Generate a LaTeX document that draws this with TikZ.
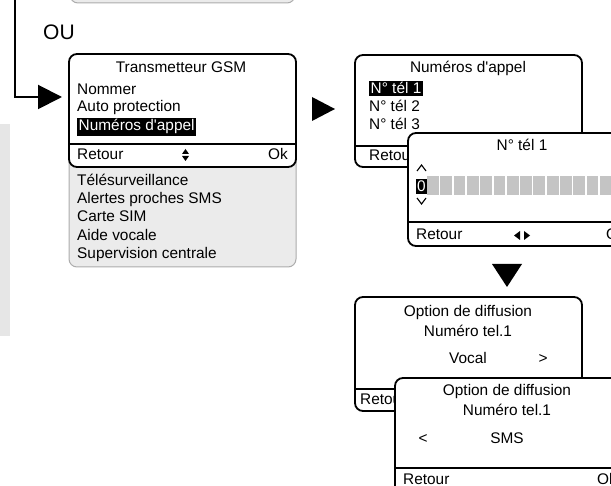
\documentclass[tikz,border=0pt]{standalone}
\usepackage{fontspec}
\setmainfont{Liberation Sans}
\usetikzlibrary{arrows.meta}
\definecolor{panelgray}{HTML}{E6E6E6}
\definecolor{listgray}{HTML}{EBEBEB}
\definecolor{cellgray}{HTML}{C4C4C4}
\begin{document}
\begin{tikzpicture}[x=1pt,y=-1pt,
    every node/.style={inner sep=0pt,font=\fontsize{15.4}{17}\selectfont},
    lbl/.style={anchor=base west},
    ctr/.style={anchor=base},
    hl/.style={anchor=base west,fill=black,text=white,inner xsep=1.5pt,inner ysep=2pt},
    screen/.style={draw,fill=white,line width=1.8pt,rounded corners=8pt},
    listbox/.style={draw=gray!65,fill=listgray,line width=1pt,rounded corners=8pt},
    sep/.style={line width=1.8pt}]
    \useasboundingbox (0,0) rectangle (611,486);
    % side panel and previous screen
    \fill[panelgray] (0,124) rectangle (10,336);
    \draw[listbox] (70,-20) rectangle (295,3);
    \coordinate (src) at (15,0);
    \coordinate (tip) at (62,97);
    \draw[line width=2pt,-{Triangle[length=24pt,width=24pt]}] (src) |- (tip);
    \node[lbl,font=\fontsize{21}{24}\selectfont] (ou) at (43,40) {OU};
    % transmetteur menu
    \draw[listbox] (69,150) rectangle (296,267);
    \draw[screen] (69,54) rectangle (296,167);
    \draw[sep] (69,144) -- (296,144);
    \node[ctr] (gsm) at (181,73) {Transmetteur GSM};
    \node[lbl] (nom) at (77,95) {Nommer};
    \node[lbl] (auto) at (77,112) {Auto protection};
    \node[hl] (num) at (77,131) {Numéros d\textquotesingle appel\hspace{7pt}};
    \node[lbl] (ret1) at (77,160) {Retour};
    \node[anchor=base east] (ok1) at (288,160) {Ok};
    \fill (182,154) -- (189,154) -- (185.5,149) -- cycle;
    \fill (182,156) -- (189,156) -- (185.5,161) -- cycle;
    \node[lbl] (tele) at (77,185.5) {Télésurveillance};
    \node[lbl] (alert) at (77,204) {Alertes proches SMS};
    \node[lbl] (sim) at (77,222) {Carte SIM};
    \node[lbl] (aide) at (77,241) {Aide vocale};
    \node[lbl] (sup) at (77,259) {Supervision centrale};
    \fill (312,97) -- (335,109) -- (312,121) -- cycle;
    % numeros d'appel
    \draw[screen] (355,55) rectangle (582,167);
    \draw[sep] (355,146) -- (582,146);
    \node[ctr] (nums) at (468,73) {Numéros d\textquotesingle appel};
    \node[hl] (tel1) at (369,94) {N° tél 1\hspace{6pt}};
    \node[lbl] (tel2) at (369,112) {N° tél 2};
    \node[lbl] (tel3) at (369,130) {N° tél 3};
    \node[lbl] (ret2) at (369,161) {Retour};
    % saisie du numero
    \draw[screen] (408,133) rectangle (640,246);
    \draw[sep] (408,222) -- (640,222);
    \node[ctr] (saisie) at (522,151) {N° tél 1};
    \draw[line width=1.1pt] (417,171) -- (421.5,165) -- (426,171);
    \draw[line width=1.1pt] (417,198) -- (421.5,204) -- (426,198);
    \node[hl,inner xsep=1pt] (zero) at (416,192) {0};
    \foreach \i in {0,...,14}
        \fill[cellgray] (427+13.3*\i,176) rectangle ++(11.8,19);
    \node[lbl] (ret3) at (416,240) {Retour};
    \fill (520,231) -- (520,240) -- (514,235.5) -- cycle;
    \fill (524,231) -- (524,240) -- (530,235.5) -- cycle;
    \node[lbl] (ok3) at (606,240) {Ok};
    \fill (492,264) -- (522,264) -- (507,287) -- cycle;
    % option vocal
    \draw[screen] (355,297) rectangle (582,411);
    \draw[sep] (355,389) -- (582,389);
    \node[ctr] (opt1) at (468,317) {Option de diffusion};
    \node[ctr] (numtel1) at (468,337) {Numéro tel.1};
    \node[ctr] (vocal) at (468,364) {Vocal};
    \node[ctr] (next) at (543,364) {>};
    \node[lbl] (ret4) at (360,405) {Retour};
    % option sms
    \draw[screen] (395,378) rectangle (640,500);
    \draw[sep] (395,468) -- (640,468);
    \node[ctr] (opt2) at (507,396) {Option de diffusion};
    \node[ctr] (numtel2) at (507,416) {Numéro tel.1};
    \node[ctr] (prev) at (423,444) {<};
    \node[ctr] (sms) at (507,444) {SMS};
    \node[lbl] (ret5) at (403,484) {Retour};
    \node[lbl] (ok5) at (597,484) {Ok};
\end{tikzpicture}
\end{document}
